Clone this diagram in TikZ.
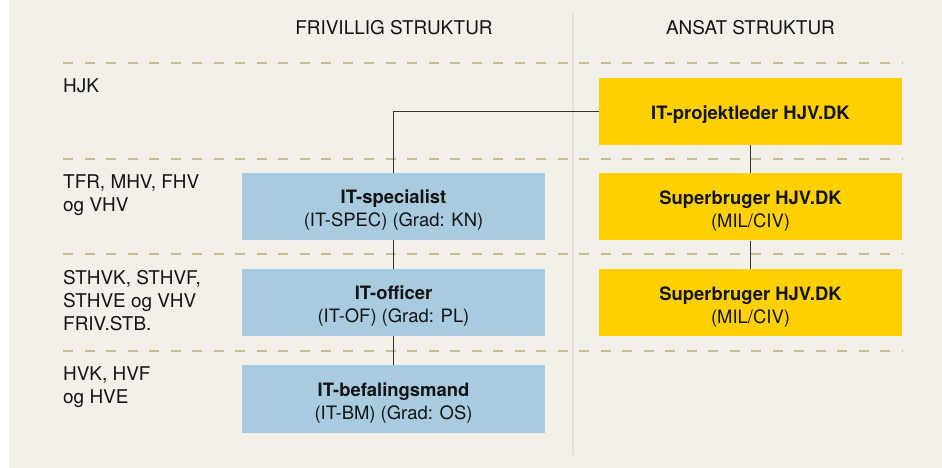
\documentclass[tikz,border=0pt]{standalone}
\usepackage{fontspec}
\setmainfont{TeX Gyre Heros}
\definecolor{bgbeige}{RGB}{243,239,233}
\definecolor{boxblue}{RGB}{168,203,224}
\definecolor{boxyellow}{RGB}{255,209,0}
\definecolor{dashcol}{RGB}{201,189,149}
\definecolor{divcol}{RGB}{230,224,210}
\definecolor{conncol}{RGB}{51,51,51}
\definecolor{txtcol}{RGB}{20,20,20}
\begin{document}
\begin{tikzpicture}[x=1bp,y=-1bp,
  hdr/.style={anchor=base,inner sep=0pt,text=txtcol,font=\fontsize{19}{23}\selectfont},
  lbl/.style={anchor=north west,inner sep=0pt,align=left,text=txtcol,font=\fontsize{19}{23}\selectfont},
  bluebox/.style={fill=boxblue,minimum width=303bp,minimum height=67bp,inner sep=0pt,draw=none},
  yellowbox/.style={fill=boxyellow,minimum width=303bp,minimum height=67bp,inner sep=0pt,draw=none},
  boxtext/.style={inner sep=0pt,align=center,text=txtcol,font=\fontsize{18.5}{23}\selectfont},
  rowline/.style={draw=dashcol,line width=2bp,dash pattern=on 10bp off 11.5bp},
  divline/.style={draw=divcol,line width=2bp},
  conn/.style={draw=conncol,line width=1.2bp}]
\useasboundingbox (0,0) rectangle (942,468);
\fill[bgbeige] (9,0) rectangle (942,468);
\draw[divline] (573,14) -- (573,455);
\foreach \yy in {63,159,254.5,351} \draw[rowline] (63,\yy) -- (902,\yy);

% headers
\node[hdr] (hfriv) at (394,35) {FRIVILLIG STRUKTUR};
\node[hdr] (hansat) at (750.5,35) {ANSAT STRUKTUR};

% row labels
\node[lbl] (lhjk) at (63,79) {HJK};
\node[lbl] (ltfr) at (63,175) {TFR, MHV, FHV\\og VHV};
\node[lbl] (lsth) at (63,270) {STHVK, STHVF,\\STHVE og VHV\\FRIV.STB.};
\node[lbl] (lhvk) at (63,367) {HVK, HVF\\og HVE};

% boxes
\node[yellowbox] (pl) at (750.5,111.5) {};
\node[yellowbox] (sba) at (750.5,207) {};
\node[yellowbox] (sbb) at (750.5,303) {};
\node[bluebox] (spec) at (393.5,206.5) {};
\node[bluebox] (off) at (393.5,302.5) {};
\node[bluebox] (bm) at (393.5,399) {};

% connectors
\draw[conn] (pl.west) -| (spec.north);
\draw[conn] (pl.south) -- (sba.north);
\draw[conn] (sba.south) -- (sbb.north);
\draw[conn] (spec.south) -- (off.north);
\draw[conn] (off.south) -- (bm.north);

% box texts
\node[boxtext,yshift=-3bp] (plt) at (pl.center) {\textbf{IT-projektleder HJV.DK}};
\node[boxtext,yshift=-4bp] (sbat) at (sba.center) {\textbf{Superbruger HJV.DK}\\(MIL/CIV)};
\node[boxtext,yshift=-4bp] (sbbt) at (sbb.center) {\textbf{Superbruger HJV.DK}\\(MIL/CIV)};
\node[boxtext,yshift=-4bp] (spect) at (spec.center) {\textbf{IT-specialist}\\(IT-SPEC) (Grad: KN)};
\node[boxtext,yshift=-4bp] (offt) at (off.center) {\textbf{IT-officer}\\(IT-OF) (Grad: PL)};
\node[boxtext,yshift=-4bp] (bmt) at (bm.center) {\textbf{IT-befalingsmand}\\(IT-BM) (Grad: OS)};
\end{tikzpicture}
\end{document}
